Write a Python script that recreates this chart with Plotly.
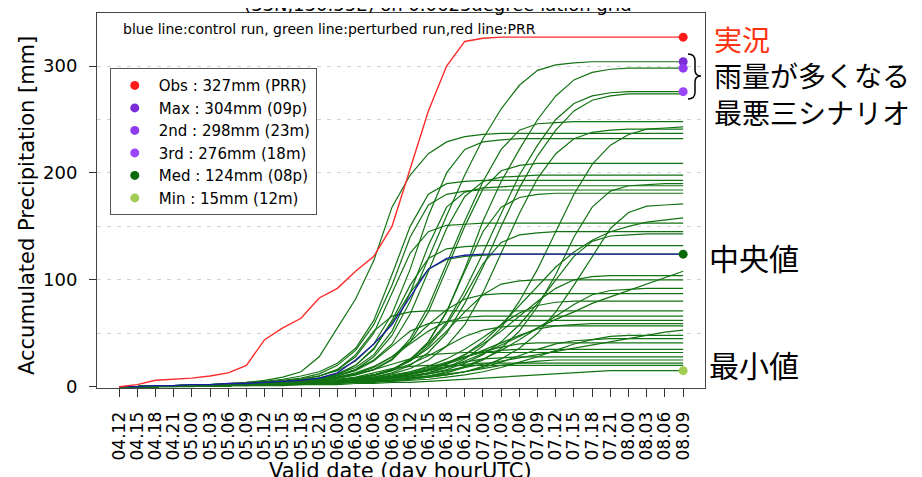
import plotly.graph_objects as go

# ---------------- data ----------------
x_labels = ["04.12", "04.15", "04.18", "04.21", "05.00", "05.03", "05.06", "05.09",
            "05.12", "05.15", "05.18", "05.21", "06.00", "06.03", "06.06", "06.09",
            "06.12", "06.15", "06.18", "06.21", "07.00", "07.03", "07.06", "07.09",
            "07.12", "07.15", "07.18", "07.21", "08.00", "08.03", "08.06", "08.09"]

obs_prr = [0, 2, 6, 7, 8, 10, 13, 20, 44, 55, 64, 83, 92, 108, 122, 150,
           205, 258, 300, 323, 326, 327, 327, 327, 327, 327, 327, 327, 327, 327, 327, 327]

control_run = [0, 0, 1, 1, 2, 2, 3, 3, 4, 5, 6, 8, 13, 25, 40, 58,
               84, 110, 120, 123, 124, 124, 124, 124, 124, 124, 124, 124, 124, 124, 124, 124]

ens_09p = [0, 0, 0, 1, 1, 1, 2, 2, 3, 4, 5, 7, 10, 16, 28, 48, 80, 120, 160, 198, 232, 260, 282, 296, 301, 303, 304, 304, 304, 304, 304, 304]
ens_23m = [0, 0, 0, 1, 1, 1, 1, 2, 2, 3, 3, 4, 5, 7, 10, 15, 25, 42, 70, 110, 155, 192, 222, 250, 272, 287, 294, 297, 298, 298, 298, 298]
ens_18m = [0, 0, 1, 1, 1, 2, 2, 2, 3, 3, 4, 5, 6, 8, 11, 16, 26, 40, 60, 90, 125, 162, 198, 226, 250, 265, 272, 275, 276, 276, 276, 276]
ens_04 = [0, 0, 0, 1, 1, 1, 2, 2, 2, 3, 3, 4, 5, 6, 9, 13, 20, 32, 50, 78, 112, 150, 186, 216, 240, 258, 268, 272, 274, 274, 274, 274]
ens_05 = [0, 0, 1, 1, 1, 2, 2, 3, 3, 4, 5, 6, 8, 11, 16, 26, 45, 75, 115, 155, 192, 222, 240, 246, 247, 248, 248, 248, 248, 248, 248, 248]
ens_06 = [0, 0, 0, 1, 1, 1, 1, 2, 2, 2, 3, 3, 4, 5, 6, 8, 10, 13, 18, 26, 38, 55, 80, 110, 145, 180, 208, 226, 236, 241, 242, 243]
ens_07 = [0, 0, 1, 1, 1, 2, 2, 2, 3, 3, 4, 4, 5, 7, 9, 12, 17, 25, 38, 58, 88, 125, 162, 195, 218, 232, 238, 240, 241, 241, 241, 241]
ens_08 = [0, 0, 1, 1, 2, 2, 3, 4, 6, 9, 14, 28, 55, 82, 118, 168, 198, 218, 229, 234, 236, 237, 237, 237, 237, 237, 237, 237, 237, 237, 237, 237]
ens_09 = [0, 0, 1, 1, 1, 2, 2, 3, 4, 5, 7, 10, 15, 24, 40, 68, 110, 160, 200, 222, 229, 231, 232, 232, 232, 232, 232, 232, 232, 232, 232, 232]
ens_10 = [0, 0, 0, 1, 1, 1, 2, 2, 3, 4, 5, 6, 8, 11, 16, 25, 42, 70, 110, 150, 185, 202, 207, 209, 209, 209, 209, 209, 209, 209, 209, 209]
ens_11 = [0, 0, 1, 1, 1, 2, 2, 3, 3, 4, 6, 8, 11, 16, 25, 40, 68, 108, 148, 178, 192, 196, 197, 198, 198, 198, 198, 198, 198, 198, 198, 198]
ens_12 = [0, 0, 1, 1, 2, 2, 3, 4, 5, 7, 10, 14, 22, 36, 62, 105, 150, 180, 190, 192, 193, 193, 193, 193, 193, 193, 193, 193, 193, 193, 193, 193]
ens_13 = [0, 0, 0, 1, 1, 1, 1, 2, 2, 2, 3, 3, 4, 4, 5, 6, 8, 10, 13, 18, 25, 36, 52, 75, 105, 140, 168, 183, 188, 189, 190, 190]
ens_14 = [0, 0, 1, 1, 1, 2, 2, 3, 4, 5, 6, 8, 12, 18, 30, 52, 88, 132, 168, 182, 186, 187, 188, 188, 188, 188, 188, 188, 188, 188, 188, 188]
ens_15 = [0, 0, 1, 1, 2, 2, 3, 3, 4, 6, 8, 12, 20, 34, 58, 95, 140, 170, 180, 183, 184, 184, 184, 184, 184, 184, 184, 184, 184, 184, 184, 184]
ens_16 = [0, 0, 0, 1, 1, 1, 2, 2, 2, 3, 4, 5, 6, 8, 11, 16, 25, 42, 70, 108, 145, 168, 177, 180, 181, 181, 181, 181, 181, 181, 181, 181]
ens_17 = [0, 0, 0, 1, 1, 1, 1, 2, 2, 2, 3, 3, 4, 4, 5, 6, 7, 9, 11, 14, 19, 26, 36, 50, 70, 95, 122, 148, 163, 169, 170, 171]
ens_18 = [0, 0, 0, 1, 1, 1, 1, 2, 2, 2, 3, 3, 4, 5, 6, 8, 11, 15, 21, 30, 42, 58, 76, 95, 112, 126, 137, 145, 150, 154, 156, 158]
ens_19 = [0, 0, 1, 1, 1, 2, 2, 3, 4, 5, 7, 10, 16, 28, 50, 88, 125, 145, 151, 152, 153, 153, 153, 153, 153, 153, 153, 153, 153, 153, 153, 153]
ens_20 = [0, 0, 0, 1, 1, 1, 2, 2, 3, 3, 4, 5, 6, 8, 11, 16, 24, 38, 58, 85, 115, 135, 142, 144, 145, 145, 145, 145, 145, 145, 145, 145]
ens_21 = [0, 0, 0, 1, 1, 1, 1, 2, 2, 2, 3, 3, 4, 5, 6, 7, 9, 12, 16, 22, 30, 42, 58, 78, 100, 122, 136, 141, 142, 143, 143, 143]
ens_22 = [0, 0, 1, 1, 1, 2, 2, 3, 3, 4, 6, 8, 12, 20, 35, 62, 95, 120, 129, 131, 132, 132, 132, 132, 132, 132, 132, 132, 132, 132, 132, 132]
ens_08p = [0, 0, 1, 1, 1, 2, 2, 3, 3, 4, 5, 7, 11, 20, 36, 60, 88, 110, 119, 122, 123, 124, 124, 124, 124, 124, 124, 124, 124, 124, 124, 124]
ens_24 = [0, 0, 0, 1, 1, 1, 1, 2, 2, 2, 3, 3, 4, 5, 6, 8, 10, 13, 18, 24, 31, 39, 47, 55, 63, 70, 78, 84, 90, 96, 102, 108]
ens_25 = [0, 0, 0, 1, 1, 1, 2, 2, 2, 3, 3, 4, 5, 6, 7, 9, 12, 16, 22, 30, 40, 52, 66, 80, 92, 100, 103, 104, 104, 104, 104, 104]
ens_26 = [0, 0, 0, 1, 1, 1, 1, 2, 2, 2, 3, 3, 4, 4, 5, 6, 8, 10, 14, 19, 26, 34, 44, 55, 66, 77, 86, 90, 91, 92, 92, 92]
ens_27 = [0, 0, 1, 1, 1, 2, 2, 3, 3, 4, 5, 6, 8, 12, 18, 28, 42, 58, 72, 82, 86, 87, 87, 87, 87, 87, 87, 87, 87, 87, 87, 87]
ens_28 = [0, 0, 1, 1, 1, 2, 2, 3, 4, 5, 7, 10, 16, 30, 52, 66, 70, 71, 71, 71, 71, 71, 71, 71, 71, 71, 71, 71, 71, 71, 71, 71]
ens_29 = [0, 0, 1, 1, 1, 2, 2, 3, 3, 4, 5, 7, 10, 15, 24, 38, 52, 59, 61, 62, 62, 62, 62, 62, 62, 62, 62, 62, 62, 62, 62, 62]
ens_30 = [0, 0, 0, 1, 1, 1, 2, 2, 2, 3, 3, 4, 5, 6, 7, 9, 12, 16, 21, 27, 34, 41, 48, 54, 57, 58, 59, 59, 59, 59, 59, 59]
ens_31 = [0, 0, 0, 1, 1, 1, 1, 2, 2, 2, 3, 3, 4, 5, 6, 8, 10, 12, 15, 18, 21, 24, 27, 30, 33, 36, 39, 42, 45, 48, 51, 53]
ens_32 = [0, 0, 0, 1, 1, 1, 1, 2, 2, 2, 3, 3, 3, 4, 4, 5, 6, 7, 9, 11, 14, 18, 23, 28, 34, 40, 44, 47, 48, 48, 48, 48]
ens_33 = [0, 0, 0, 1, 1, 1, 2, 2, 2, 3, 3, 4, 5, 6, 8, 10, 13, 17, 22, 28, 33, 37, 40, 41, 41, 41, 41, 41, 41, 41, 41, 41]
ens_34 = [0, 0, 0, 1, 1, 1, 1, 2, 2, 2, 3, 3, 4, 5, 7, 9, 12, 15, 19, 23, 26, 27, 28, 28, 28, 28, 28, 28, 28, 28, 28, 28]
ens_35 = [0, 0, 0, 0, 1, 1, 1, 1, 2, 2, 2, 3, 3, 4, 5, 6, 8, 10, 12, 14, 17, 20, 22, 24, 25, 25, 25, 25, 25, 25, 25, 25]
ens_36 = [0, 0, 0, 1, 1, 1, 1, 2, 2, 2, 3, 3, 4, 5, 7, 9, 12, 15, 18, 21, 22, 22, 22, 22, 22, 22, 22, 22, 22, 22, 22, 22]
ens_12m = [0, 0, 0, 0, 0, 1, 1, 1, 1, 1, 2, 2, 2, 3, 3, 4, 4, 5, 6, 7, 8, 9, 10, 11, 12, 13, 14, 15, 15, 15, 15, 15]
ens_38 = [0, 0, 0, 1, 1, 1, 2, 2, 3, 3, 4, 5, 6, 8, 11, 16, 24, 36, 52, 70, 86, 96, 99, 100, 100, 100, 100, 100, 100, 100, 100, 100]
ens_39 = [0, 0, 0, 1, 1, 1, 1, 2, 2, 3, 3, 4, 5, 6, 8, 10, 14, 19, 26, 35, 46, 58, 69, 76, 79, 80, 80, 80, 80, 80, 80, 80]
ens_40 = [0, 0, 1, 1, 1, 2, 2, 3, 3, 4, 5, 7, 9, 13, 19, 28, 40, 52, 61, 65, 66, 66, 66, 66, 66, 66, 66, 66, 66, 66, 66, 66]
ens_41 = [0, 0, 0, 1, 1, 1, 2, 2, 2, 3, 4, 5, 6, 8, 11, 15, 21, 29, 38, 47, 53, 56, 57, 57, 57, 57, 57, 57, 57, 57, 57, 57]
ens_42 = [0, 0, 0, 1, 1, 1, 1, 2, 2, 2, 3, 3, 4, 4, 5, 6, 7, 9, 11, 14, 18, 23, 29, 35, 40, 43, 44, 45, 45, 45, 45, 45]
ens_43 = [0, 0, 0, 1, 1, 1, 1, 2, 2, 3, 3, 4, 5, 6, 8, 11, 14, 18, 23, 28, 32, 34, 35, 35, 35, 35, 35, 35, 35, 35, 35, 35]
ens_44 = [0, 0, 1, 1, 1, 2, 2, 3, 3, 4, 5, 7, 9, 12, 16, 21, 26, 30, 31, 32, 32, 32, 32, 32, 32, 32, 32, 32, 32, 32, 32, 32]
ens_45 = [0, 0, 0, 1, 1, 1, 2, 2, 2, 3, 4, 5, 7, 9, 13, 17, 19, 20, 20, 20, 20, 20, 20, 20, 20, 20, 20, 20, 20, 20, 20, 20]

ensemble = [ens_09p, ens_23m, ens_18m, ens_04, ens_05, ens_06, ens_07, ens_08, ens_09,
            ens_10, ens_11, ens_12, ens_13, ens_14, ens_15, ens_16, ens_17, ens_18,
            ens_19, ens_20, ens_21, ens_22, ens_08p, ens_24, ens_25, ens_26, ens_27,
            ens_28, ens_29, ens_30, ens_31, ens_32, ens_33, ens_34, ens_35, ens_36,
            ens_12m, ens_38, ens_39, ens_40, ens_41, ens_42, ens_43, ens_44, ens_45]

marker_labels = ["Obs : 327mm (PRR)", "Max : 304mm (09p)", "2nd : 298mm (23m)",
                 "3rd : 276mm (18m)", "Med : 124mm (08p)", "Min : 15mm (12m)"]
marker_values = [327, 304, 298, 276, 124, 15]
marker_colors = ["#ff1a1a", "#7a2cd6", "#8e3bef", "#9b45fb", "#0a6a0a", "#a3cc55"]

# ---------------- figure ----------------
FONT = "DejaVu Sans, Liberation Sans, Arial, sans-serif"
CJK = "Noto Sans CJK JP, sans-serif"

fig = go.Figure()

for vals in ensemble:
    fig.add_trace(go.Scatter(x=x_labels, y=vals, mode="lines",
                             line=dict(color="#137313", width=1.2),
                             showlegend=False, hoverinfo="skip"))

fig.add_trace(go.Scatter(x=x_labels, y=control_run, mode="lines",
                         line=dict(color="#1c1ca8", width=1.3),
                         showlegend=False, hoverinfo="skip"))
fig.add_trace(go.Scatter(x=x_labels, y=obs_prr, mode="lines",
                         line=dict(color="#ff2a2a", width=1.4),
                         showlegend=False, hoverinfo="skip"))

for lab, val, col in zip(marker_labels, marker_values, marker_colors):
    fig.add_trace(go.Scatter(x=[x_labels[-1]], y=[val], mode="markers", name=lab,
                             marker=dict(color=col, size=9)))


# helpers: convert page-pixel positions of the reference into paper coords
def px(xp):
    return (xp - 97) / 608


def py(yp):
    return (388 - yp) / 375


brace = (f"M {px(688)},{py(54)} Q {px(695)},{py(54)} {px(695)},{py(61)} "
         f"L {px(695)},{py(70)} Q {px(695)},{py(76)} {px(701)},{py(76)} "
         f"Q {px(695)},{py(76)} {px(695)},{py(82)} L {px(695)},{py(92)} "
         f"Q {px(695)},{py(99)} {px(688)},{py(99)}")

right_note = ("<span style='color:#ff3311'>実況</span><br>"
              "雨量が多くなる<br>最悪三シナリオ")

fig.update_layout(
    width=922, height=477,
    margin=dict(l=89, r=225, t=5, b=97),
    paper_bgcolor="white", plot_bgcolor="white",
    font=dict(family=FONT, color="black"),
    showlegend=True,
    legend=dict(x=0.021, y=0.853, xanchor="left", yanchor="top",
                bgcolor="white", bordercolor="#555555", borderwidth=1,
                font=dict(family=FONT, size=15, color="black"),
                itemwidth=38, traceorder="normal"),
    xaxis=dict(type="category", categoryorder="array", categoryarray=x_labels,
               range=[-1.21, 32.2], tickmode="linear", tick0=0, dtick=1,
               tickangle=-90, ticks="outside", ticklen=8,
               tickcolor="#333333", tickfont=dict(family=FONT, size=17, color="black"),
               showline=True, mirror=True, linecolor="#444444", linewidth=1,
               showgrid=False, zeroline=False, ticklabelstandoff=8, automargin=False),
    yaxis=dict(range=[-1.2, 349.6], tickvals=[0, 100, 200, 300], ticks="outside",
               ticklen=7, tickcolor="#333333",
               tickfont=dict(family=FONT, size=18, color="black"),
               showline=True, mirror=True, linecolor="#444444", linewidth=1,
               showgrid=False, zeroline=False, ticklabelstandoff=8, automargin=False,
               minor=dict(tickvals=[50, 100, 150, 200, 250, 300], ticks="",
                          showgrid=True, gridcolor="#d2d2dc", griddash="4px,6px",
                          gridwidth=1)),
    shapes=[dict(type="path", path=brace, xref="paper", yref="paper",
                 line=dict(color="black", width=1.5))],
    annotations=[
        dict(text="(33N,130.55E) on 0.0625degree latlon grid", xref="paper", yref="paper",
             x=px(438), y=py(17), xanchor="center", yanchor="bottom", showarrow=False,
             font=dict(family=FONT, size=18, color="black")),
        dict(text="blue line:control run, green line:perturbed run,red line:PRR",
             xref="paper", yref="paper", x=px(121), y=py(29), xanchor="left",
             yanchor="middle", showarrow=False,
             font=dict(family=FONT, size=14, color="black")),
        dict(text="Accumulated Precipitation [mm]", xref="paper", yref="paper",
             x=px(27), y=py(206), xanchor="center", yanchor="middle", textangle=-90,
             showarrow=False, font=dict(family=FONT, size=21, color="black")),
        dict(text="Valid date (day hourUTC)", xref="paper", yref="paper",
             x=px(400), y=py(457), xanchor="center", yanchor="top", showarrow=False,
             font=dict(family=FONT, size=21, color="black")),
        dict(text=right_note, xref="paper", yref="paper", x=px(712), y=py(75),
             xanchor="left", yanchor="middle", align="left", showarrow=False,
             font=dict(family=CJK, size=28, color="black")),
        dict(text="中央値", xref="paper", yref="paper", x=px(707), y=py(257),
             xanchor="left", yanchor="middle", showarrow=False,
             font=dict(family=CJK, size=30, color="black")),
        dict(text="最小値", xref="paper", yref="paper", x=px(707), y=py(364),
             xanchor="left", yanchor="middle", showarrow=False,
             font=dict(family=CJK, size=30, color="black")),
    ],
)

fig.write_html("out.html")
